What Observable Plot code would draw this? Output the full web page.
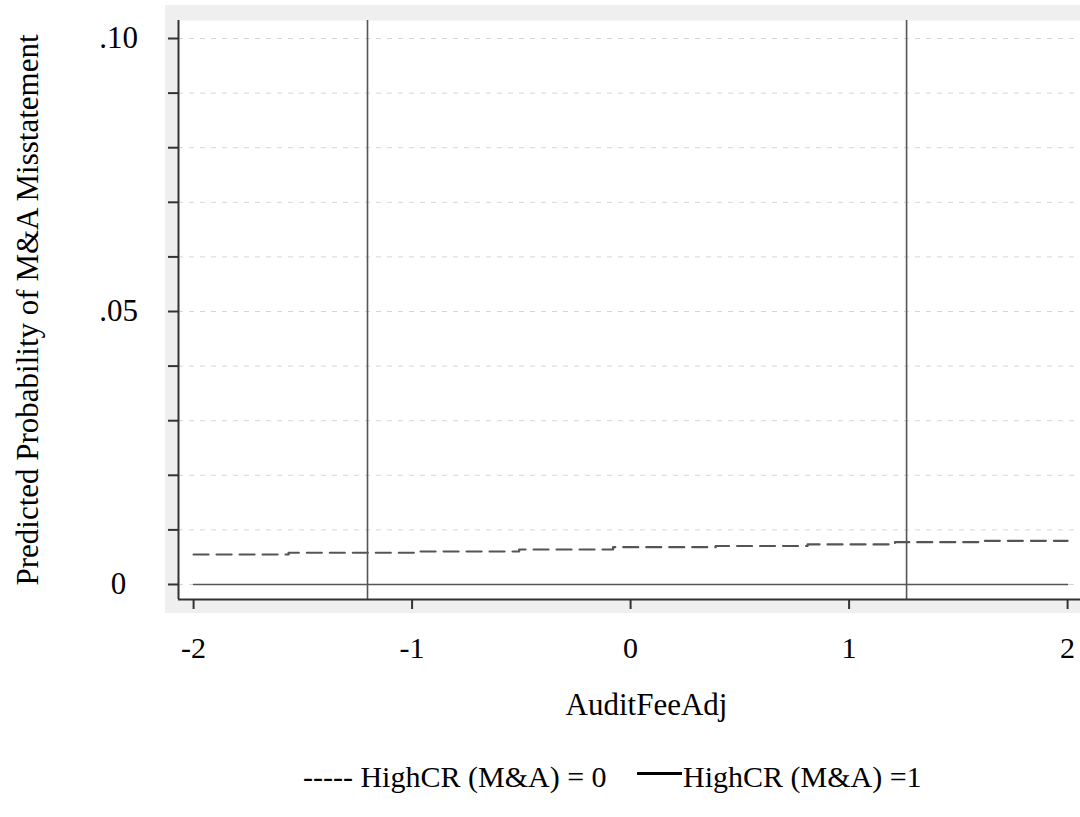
<!DOCTYPE html>
<html>
<head>
<meta charset="utf-8">
<script src="https://cdn.jsdelivr.net/npm/d3@7"></script>
<script src="https://cdn.jsdelivr.net/npm/@observablehq/plot@0.6"></script>
<style>
  html, body { margin: 0; padding: 0; background: #ffffff; }
  #wrap { position: relative; width: 1080px; height: 817px; overflow: hidden; font-family: "Liberation Serif", "Times New Roman", serif; }
  #panel { position: absolute; left: 165px; top: 5px; width: 915px; height: 608px; background: #efefef; }
  #chart { position: absolute; left: 0; top: 0; }
  .leg { position: absolute; top: 762px; font-size: 30px; line-height: 1; color: #000; white-space: nowrap; }
  .legline { position: absolute; top: 772px; height: 3px; background: #000; }
</style>
</head>
<body>
<div id="wrap">
  <div id="panel"></div>
  <div id="chart"></div>
  <div class="leg" style="left:303px">----- HighCR (M&amp;A) = 0</div>
  <div class="legline" style="left:637px; width:45px"></div>
  <div class="leg" style="left:683px">HighCR (M&amp;A) =1</div>
</div>
<script>
// Data
const auditFeeAdj = [-2, -1.565, -0.99, -0.51, -0.08, 0.39, 0.81, 1.21, 1.62, 2];
const probHighCR0 = [0.00549, 0.00581, 0.00604, 0.00641, 0.00683, 0.00705, 0.00733, 0.00775, 0.00800, 0.00800];
const auditFeeAdj1 = [-2, 2];
const probHighCR1 = [0.0000, 0.0000];
const refLines = [-1.204, 1.263];
const xTicks = [-2, -1, 0, 1, 2];
const yTicks = [0, 0.01, 0.02, 0.03, 0.04, 0.05, 0.06, 0.07, 0.08, 0.09, 0.10];
const yTickLabels = {"0": "0", "0.05": ".05", "0.1": ".10"};
const xTitle = ["AuditFeeAdj"];
const yTitle = "Predicted Probability of M&A Misstatement";
const xDomain = [-2.069, 2.059];
const yDomain = [-0.00275, 0.1033];

const series0 = auditFeeAdj.map((x, i) => ({x, y: probHighCR0[i]}));
const series1 = auditFeeAdj1.map((x, i) => ({x, y: probHighCR1[i]}));

const chart = Plot.plot({
  width: 1080,
  height: 760,
  marginTop: 20,
  marginBottom: 161,
  marginLeft: 178,
  marginRight: 0,
  style: {fontFamily: "'Liberation Serif', 'Times New Roman', serif", fontSize: "30px", background: "transparent", color: "#000"},
  x: {domain: xDomain},
  y: {domain: yDomain},
  marks: [
    Plot.frame({fill: "white", stroke: null}),
    Plot.gridY(yTicks, {stroke: "#d6d6d6", strokeOpacity: 1, strokeDasharray: "5,6", strokeWidth: 1}),
    Plot.ruleX(refLines, {stroke: "#555", strokeWidth: 1.6}),
    Plot.line(series1, {x: "x", y: "y", stroke: "#555", strokeWidth: 1.6}),
    Plot.line(series0, {x: "x", y: "y", curve: "step-after", stroke: "#555", strokeWidth: 2.2, strokeDasharray: "15,8"}),
    Plot.ruleX([xDomain[0]], {stroke: "#333", strokeWidth: 2}),
    Plot.ruleY([yDomain[0]], {stroke: "#333", strokeWidth: 2}),
    Plot.axisY(yTicks, {
      tickSize: 10, tickPadding: 50, textAnchor: "middle",
      stroke: "#333", strokeWidth: 2, fill: "#000",
      tickFormat: d => yTickLabels[String(+d.toFixed(2))] ?? "",
      label: yTitle,
      labelAnchor: "center", labelArrow: "none", labelOffset: 163, fontSize: 31
    }),
    Plot.axisX(xTicks, {
      tickSize: 10, tickPadding: 27,
      stroke: "#333", strokeWidth: 2, fill: "#000",
      tickFormat: d => String(d),
      label: null
    }),
    Plot.text(xTitle, {text: d => d, frameAnchor: "bottom", lineAnchor: "middle", dx: 17, dy: 106, fontSize: 31, fill: "#000"})
  ]
});
document.getElementById("chart").appendChild(chart);
</script>
</body>
</html>
